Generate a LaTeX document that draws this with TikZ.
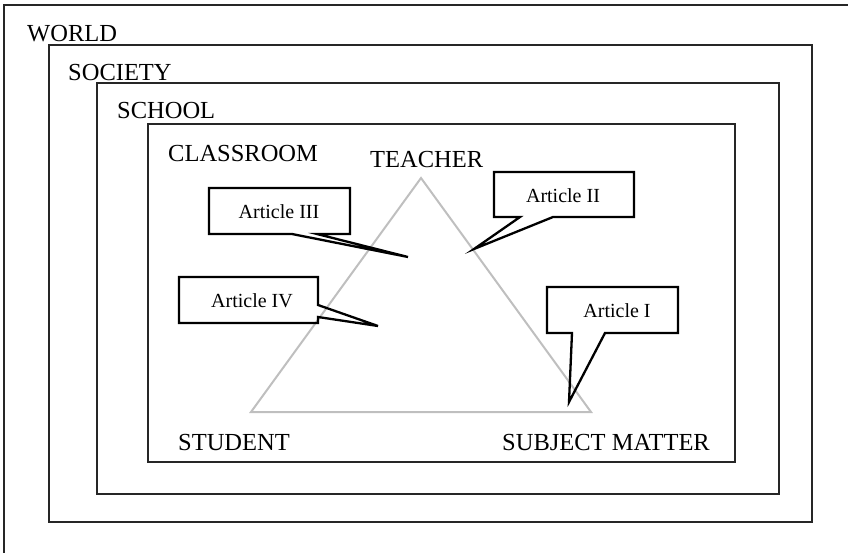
\documentclass[tikz,border=0pt]{standalone}
\usepackage{fontspec}
\setmainfont{Liberation Serif}
\begin{document}
\begin{tikzpicture}[x=1pt,y=-1pt,
  frame/.style={draw=black!85,line width=1.3pt},
  lbl/.style={anchor=base west,inner sep=0pt,font=\fontsize{24.5}{28}\selectfont},
  arttext/.style={inner sep=0pt,font=\fontsize{20}{23}\selectfont},
  callout/.style={draw=black,line width=2.3pt,line join=miter},
  tri/.style={draw=black!25,line width=2pt}]
\useasboundingbox (0,0) rectangle (848,552);
% frames
\coordinate (wtr) at (849,5);
\coordinate (wtl) at (4,5);
\coordinate (wbl) at (4,553);
\draw[frame] (wtr) -- (wtl) -- (wbl);
\draw[frame] (49,45) rectangle (812,522);
\draw[frame] (97,83) rectangle (779,494);
\draw[frame] (148,124) rectangle (735,462);
% labels
\node[lbl] (world) at (27,41) {WORLD};
\node[lbl] (society) at (68,80) {SOCIETY};
\node[lbl] (school) at (117,118) {SCHOOL};
\node[lbl] (classroom) at (168,161) {CLASSROOM};
\node[lbl] (teacher) at (370,167) {TEACHER};
\node[lbl] (student) at (178,450) {STUDENT};
\node[lbl] (subject) at (502,450) {SUBJECT MATTER};
% triangle
\coordinate (apex) at (421,178);
\coordinate (bl) at (251,412);
\coordinate (br) at (591,412);
\draw[tri] (apex) -- (bl) -- (br) -- cycle;
% callouts
\coordinate (t3) at (408,257);
\coordinate (t4) at (378,326);
\coordinate (t2) at (474,249);
\coordinate (t1) at (569,402);
\draw[callout] (209,188) -- (350,188) -- (350,234) -- (317,234) -- (t3) -- (292,234) -- (209,234) -- cycle;
\draw[callout] (179,277) -- (318,277) -- (318,305) -- (t4) -- (318,317) -- (318,323) -- (179,323) -- cycle;
\draw[callout] (494,172) -- (634,172) -- (634,217) -- (553,217) -- (t2) -- (520,217) -- (494,217) -- cycle;
\draw[callout] (547,287) -- (678,287) -- (678,333) -- (605,333) -- (t1) -- (572,333) -- (547,333) -- cycle;
\node[arttext] (a3) at (279,212) {Article III};
\node[arttext] (a4) at (252,301) {Article IV};
\node[arttext] (a2) at (563,196) {Article II};
\node[arttext] (a1) at (617,311) {Article I};
\end{tikzpicture}
\end{document}
